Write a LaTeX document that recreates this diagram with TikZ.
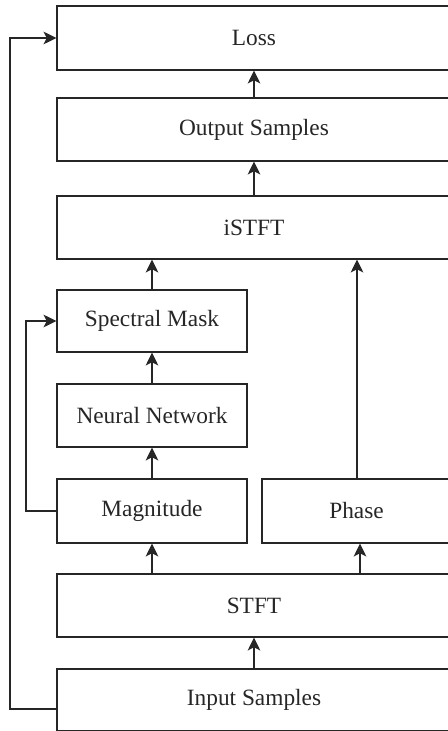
\documentclass[tikz,border=0pt]{standalone}
\usepackage{fontspec}
\setmainfont{Liberation Serif}
\usetikzlibrary{arrows.meta}
\definecolor{ink}{HTML}{262626}
\begin{document}
\begin{tikzpicture}[x=0.75pt,y=-0.75pt,
  block/.style={draw=ink,line width=0.8pt,rectangle,inner sep=0pt,
    text=ink,font=\fontsize{17.5}{21}\selectfont},
  wide/.style={block,minimum width=295.5pt},
  half/.style={block,minimum width=142.5pt},
  arr/.style={draw=ink,line width=0.8pt,
    -{Stealth[length=9.75pt,width=9.5pt,inset=2.5pt]}}]
\useasboundingbox (0,0) rectangle (448,731);
\clip (0,0) rectangle (448,731);

% processing blocks
\node[wide,minimum height=48pt]   (loss)   at (254,38)    {Loss};
\node[wide,minimum height=47.25pt] (out)   at (254,129.5) {Output Samples};
\node[wide,minimum height=47.25pt] (istft) at (254,227.5) {iSTFT};
\node[half,minimum height=46.5pt] (mask)   at (152,321)   {Spectral Mask};
\node[half,minimum height=47.25pt] (nn)    at (152,415.5) {Neural Network};
\node[half,minimum height=48pt]   (mag)    at (152,511)   {Magnitude};
\node[block,minimum width=141.75pt,minimum height=48pt] (phase) at (356.5,511) {Phase};
\node[wide,minimum height=47.25pt] (stft)  at (254,605.5) {STFT};
\node[wide,minimum height=46.5pt] (in)     at (254,700)   {Input Samples};

% main signal path
\draw[arr] (in.north) -- (stft.south);
\draw[arr] (stft.north -| mag.north) -- (mag.south);
\draw[arr] (stft.north -| 360,0) -- (phase.south -| 360,0);
\draw[arr] (mag.north) -- (nn.south);
\draw[arr] (nn.north) -- (mask.south);
\draw[arr] (mask.north) -- (istft.south -| mask.north);
\draw[arr] (phase.north -| 357,0) -- (istft.south -| 357,0);
\draw[arr] (istft.north) -- (out.south);
\draw[arr] (out.north) -- (loss.south);

% feedback paths
\coordinate (lossrail) at (10,709);
\draw[arr] (in.west |- lossrail) -- (lossrail) -- (lossrail |- loss.west) -- (loss.west);
\coordinate (maskrail) at (26,0);
\draw[arr] (mag.west) -- (maskrail |- mag.west) -- (maskrail |- mask.west) -- (mask.west);
\end{tikzpicture}
\end{document}
